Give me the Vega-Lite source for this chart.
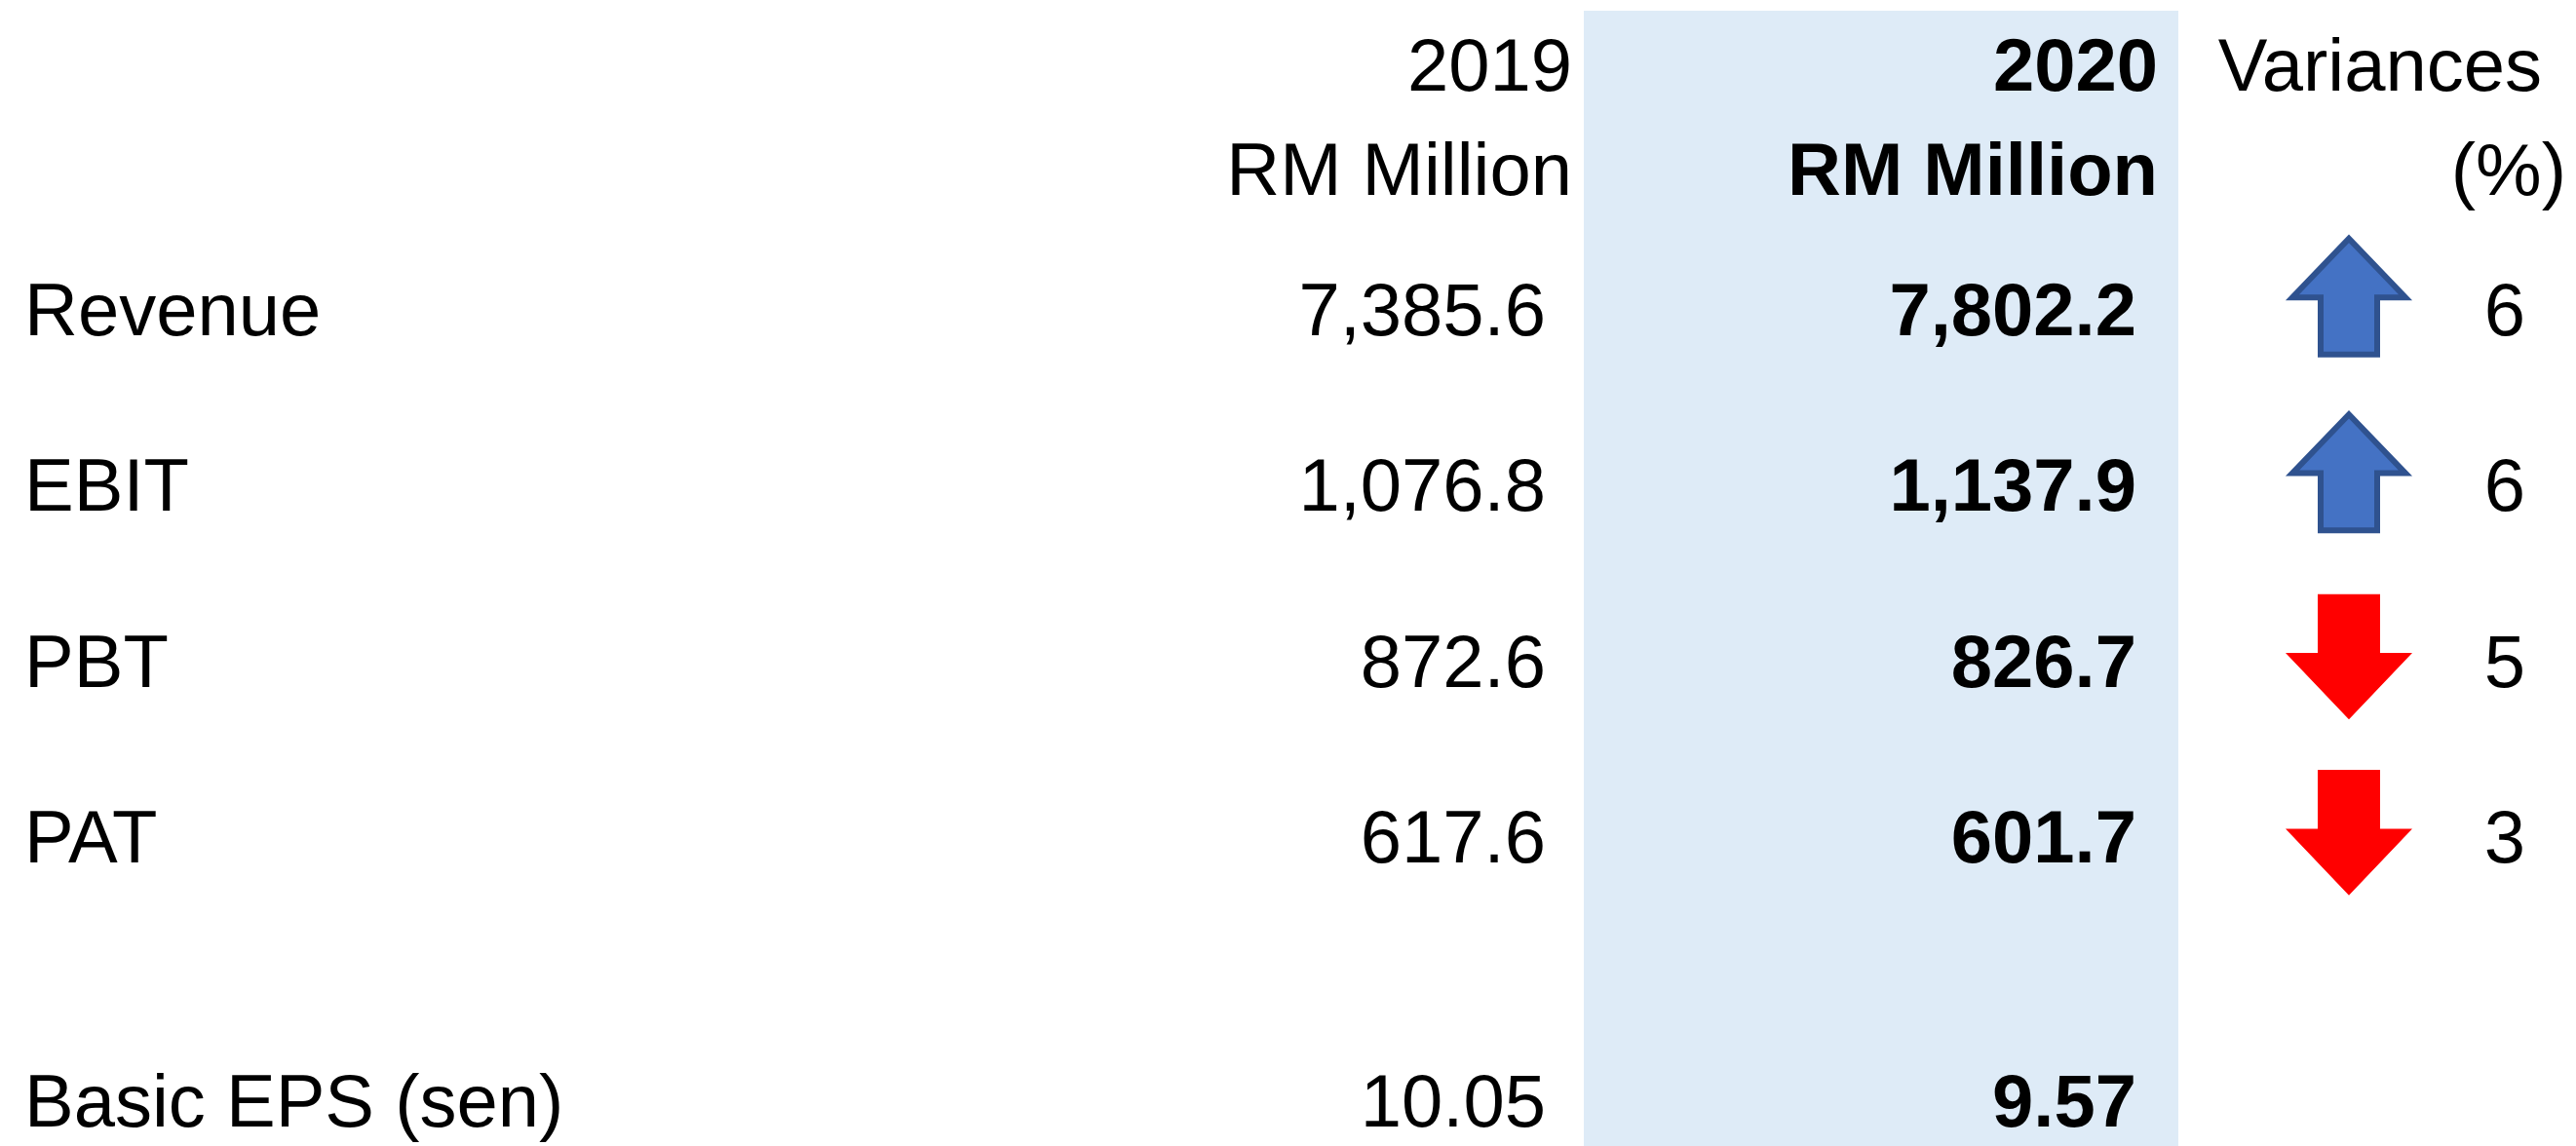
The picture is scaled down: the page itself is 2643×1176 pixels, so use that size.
{
  "$schema": "https://vega.github.io/schema/vega-lite/v6.json",
  "width": 2643,
  "height": 1176,
  "padding": 0,
  "autosize": {"type": "none"},
  "background": "white",
  "config": {"view": {"stroke": null}, "text": {"font": "Liberation Sans", "fontSize": 76, "color": "#000000", "baseline": "alphabetic"}},
  "data": {"values": [
    {"metric": "Revenue", "y2019": 7385.6, "y2020": 7802.2, "var": 6, "dir": "up"},
    {"metric": "EBIT", "y2019": 1076.8, "y2020": 1137.9, "var": 6, "dir": "up"},
    {"metric": "PBT", "y2019": 872.6, "y2020": 826.7, "var": 5, "dir": "down"},
    {"metric": "PAT", "y2019": 617.6, "y2020": 601.7, "var": 3, "dir": "down"},
    {"metric": "Basic EPS (sen)", "y2019": 10.05, "y2020": 9.57, "var": null, "dir": null}
  ]},
  "layer": [
    {
      "data": {"values": [{}]},
      "mark": {"type": "rect", "color": "#DEEBF7", "yOffset": -333, "y2Offset": 20},
      "encoding": {
        "x": {"datum": 1625, "type": "quantitative", "scale": {"domain": [0, 2643], "nice": false, "zero": false}, "axis": null},
        "x2": {"datum": 2235},
        "y": {"datum": "Revenue", "type": "nominal", "scale": {"type": "point", "domain": ["Revenue", "r1", "EBIT", "r2", "PBT", "r3", "PAT", "r4", "r5", "Basic EPS (sen)"], "range": [344, 1156], "padding": 0}, "axis": null},
        "y2": {"datum": "Basic EPS (sen)"}
      }
    },
    {
      "mark": {"type": "text", "align": "left"},
      "encoding": {
        "x": {"datum": 25, "type": "quantitative", "scale": {"domain": [0, 2643], "nice": false, "zero": false}, "axis": null},
        "y": {"field": "metric", "type": "nominal", "scale": {"type": "point", "domain": ["Revenue", "r1", "EBIT", "r2", "PBT", "r3", "PAT", "r4", "r5", "Basic EPS (sen)"], "range": [344, 1156], "padding": 0}, "axis": null},
        "text": {"field": "metric", "type": "nominal"}
      }
    },
    {
      "mark": {"type": "text", "align": "right"},
      "encoding": {
        "x": {"datum": 1586, "type": "quantitative", "scale": {"domain": [0, 2643], "nice": false, "zero": false}, "axis": null},
        "y": {"field": "metric", "type": "nominal", "scale": {"type": "point", "domain": ["Revenue", "r1", "EBIT", "r2", "PBT", "r3", "PAT", "r4", "r5", "Basic EPS (sen)"], "range": [344, 1156], "padding": 0}, "axis": null},
        "text": {"condition": {"test": "datum.metric === 'Basic EPS (sen)'", "field": "y2019", "type": "quantitative", "format": ".2f"}, "field": "y2019", "type": "quantitative", "format": ",.1f"}
      }
    },
    {
      "mark": {"type": "text", "align": "right", "fontWeight": "bold"},
      "encoding": {
        "x": {"datum": 2192, "type": "quantitative", "scale": {"domain": [0, 2643], "nice": false, "zero": false}, "axis": null},
        "y": {"field": "metric", "type": "nominal", "scale": {"type": "point", "domain": ["Revenue", "r1", "EBIT", "r2", "PBT", "r3", "PAT", "r4", "r5", "Basic EPS (sen)"], "range": [344, 1156], "padding": 0}, "axis": null},
        "text": {"condition": {"test": "datum.metric === 'Basic EPS (sen)'", "field": "y2020", "type": "quantitative", "format": ".2f"}, "field": "y2020", "type": "quantitative", "format": ",.1f"}
      }
    },
    {
      "transform": [{"filter": "datum.dir != null"}],
      "mark": {"type": "point", "filled": true, "size": 13456, "strokeWidth": 6, "opacity": 1},
      "encoding": {
        "x": {"datum": 2410, "type": "quantitative", "scale": {"domain": [0, 2643], "nice": false, "zero": false}, "axis": null},
        "y": {"field": "metric", "type": "nominal", "scale": {"type": "point", "domain": ["Revenue", "r1", "EBIT", "r2", "PBT", "r3", "PAT", "r4", "r5", "Basic EPS (sen)"], "range": [344, 1156], "padding": 0}, "axis": null},
        "shape": {"field": "dir", "type": "nominal", "legend": null, "scale": {"domain": ["up", "down"], "range": ["M0,-1.71 L1,-0.67 L0.5,-0.67 L0.5,0.34 L-0.5,0.34 L-0.5,-0.67 L-1,-0.67 Z", "M-0.5,-1.59 L0.5,-1.59 L0.5,-0.55 L1,-0.55 L0,0.5 L-1,-0.55 L-0.5,-0.55 Z"]}},
        "fill": {"field": "dir", "type": "nominal", "legend": null, "scale": {"domain": ["up", "down"], "range": ["#4472C4", "#FF0000"]}},
        "stroke": {"field": "dir", "type": "nominal", "legend": null, "scale": {"domain": ["up", "down"], "range": ["#2F528F", "#FF0000"]}}
      }
    },
    {
      "transform": [{"filter": "datum.var != null"}],
      "mark": {"type": "text", "align": "right"},
      "encoding": {
        "x": {"datum": 2591, "type": "quantitative", "scale": {"domain": [0, 2643], "nice": false, "zero": false}, "axis": null},
        "y": {"field": "metric", "type": "nominal", "scale": {"type": "point", "domain": ["Revenue", "r1", "EBIT", "r2", "PBT", "r3", "PAT", "r4", "r5", "Basic EPS (sen)"], "range": [344, 1156], "padding": 0}, "axis": null},
        "text": {"field": "var", "type": "quantitative", "format": "d"}
      }
    },
    {
      "data": {"values": [{}]},
      "mark": {"type": "text", "align": "right", "dy": -251, "lineHeight": 107, "text": ["2019", "RM Million"]},
      "encoding": {
        "x": {"datum": 1613, "type": "quantitative", "scale": {"domain": [0, 2643], "nice": false, "zero": false}, "axis": null},
        "y": {"datum": "Revenue", "type": "nominal", "scale": {"type": "point", "domain": ["Revenue", "r1", "EBIT", "r2", "PBT", "r3", "PAT", "r4", "r5", "Basic EPS (sen)"], "range": [344, 1156], "padding": 0}, "axis": null}
      }
    },
    {
      "data": {"values": [{}]},
      "mark": {"type": "text", "align": "right", "fontWeight": "bold", "dy": -251, "lineHeight": 107, "text": ["2020", "RM Million"]},
      "encoding": {
        "x": {"datum": 2214, "type": "quantitative", "scale": {"domain": [0, 2643], "nice": false, "zero": false}, "axis": null},
        "y": {"datum": "Revenue", "type": "nominal", "scale": {"type": "point", "domain": ["Revenue", "r1", "EBIT", "r2", "PBT", "r3", "PAT", "r4", "r5", "Basic EPS (sen)"], "range": [344, 1156], "padding": 0}, "axis": null}
      }
    },
    {
      "data": {"values": [{}]},
      "mark": {"type": "text", "align": "right", "dy": -251, "text": "Variances"},
      "encoding": {
        "x": {"datum": 2608, "type": "quantitative", "scale": {"domain": [0, 2643], "nice": false, "zero": false}, "axis": null},
        "y": {"datum": "Revenue", "type": "nominal", "scale": {"type": "point", "domain": ["Revenue", "r1", "EBIT", "r2", "PBT", "r3", "PAT", "r4", "r5", "Basic EPS (sen)"], "range": [344, 1156], "padding": 0}, "axis": null}
      }
    },
    {
      "data": {"values": [{}]},
      "mark": {"type": "text", "align": "right", "dy": -144, "text": "(%)"},
      "encoding": {
        "x": {"datum": 2633, "type": "quantitative", "scale": {"domain": [0, 2643], "nice": false, "zero": false}, "axis": null},
        "y": {"datum": "Revenue", "type": "nominal", "scale": {"type": "point", "domain": ["Revenue", "r1", "EBIT", "r2", "PBT", "r3", "PAT", "r4", "r5", "Basic EPS (sen)"], "range": [344, 1156], "padding": 0}, "axis": null}
      }
    }
  ]
}
